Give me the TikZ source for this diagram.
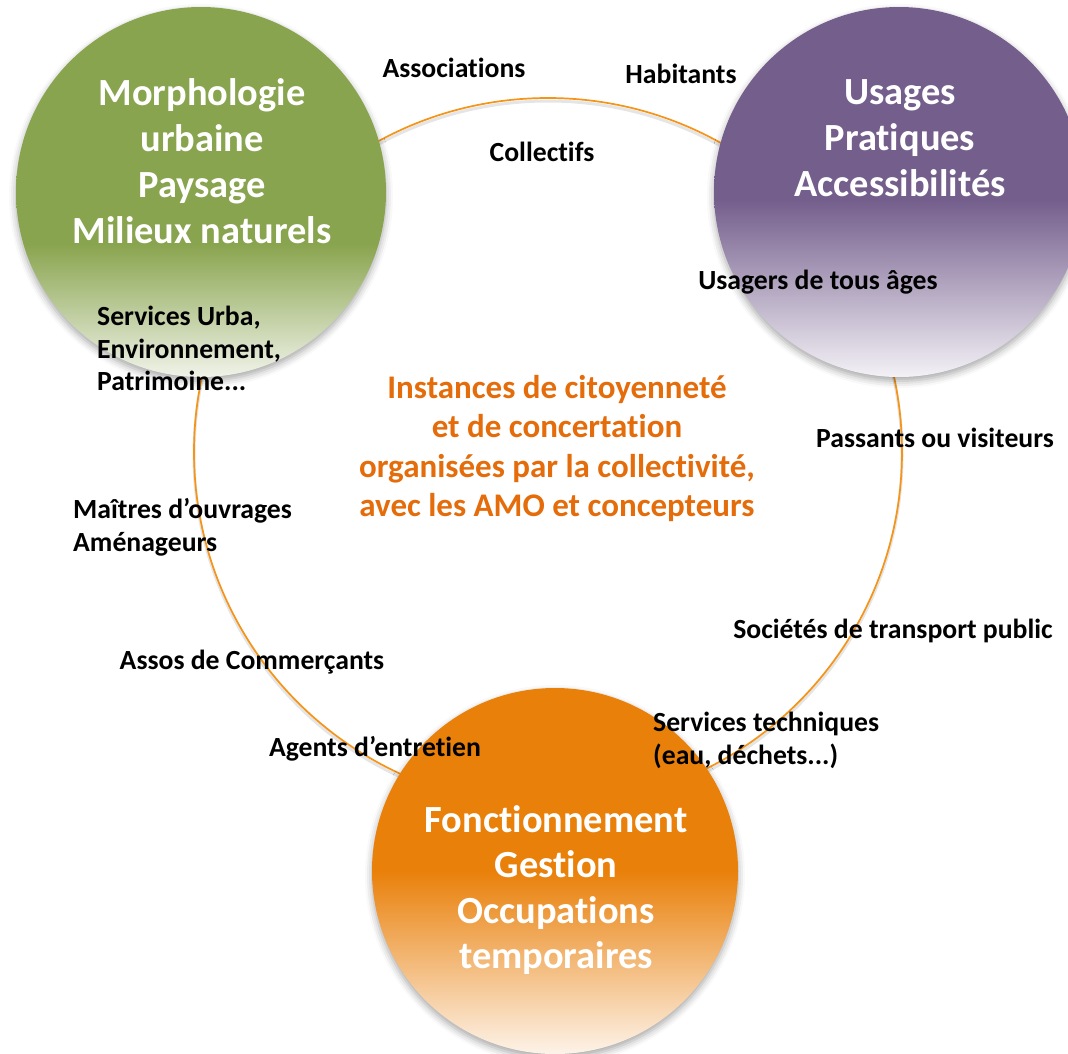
\documentclass[tikz,border=0pt]{standalone}
\usepackage{fontspec}
\setmainfont{Carlito}[Ligatures=NoCommon]
\usetikzlibrary{shadows.blur}

\definecolor{morphoGreen}{RGB}{137,164,78}
\definecolor{morphoFade}{RGB}{240,243,233}
\definecolor{usageViolet}{RGB}{116,94,140}
\definecolor{usageFade}{RGB}{243,241,246}
\definecolor{gestionOrange}{RGB}{233,128,10}
\definecolor{gestionFade}{RGB}{253,243,233}
\definecolor{ringOrange}{RGB}{245,148,22}
\definecolor{instanceText}{RGB}{228,108,10}

\pgfdeclareverticalshading{morphoShade}{100bp}{color(0bp)=(morphoFade); color(25bp)=(morphoFade); color(43bp)=(morphoGreen); color(100bp)=(morphoGreen)}
\pgfdeclareverticalshading{usageShade}{100bp}{color(0bp)=(usageFade); color(25bp)=(usageFade); color(49bp)=(usageViolet); color(100bp)=(usageViolet)}
\pgfdeclareverticalshading{gestionShade}{100bp}{color(0bp)=(gestionFade); color(25bp)=(gestionFade); color(50bp)=(gestionOrange); color(100bp)=(gestionOrange)}

\tikzset{
  pole/.style={circle, minimum size=370pt, inner sep=0pt,
    blur shadow={shadow xshift=0pt, shadow yshift=-4pt, shadow blur radius=7pt, shadow opacity=35}},
  poletext/.style={anchor=north, inner sep=0pt, text=white, align=center,
    font=\bfseries\fontsize{38.4}{46}\selectfont},
  acteur/.style={inner sep=0pt, font=\bfseries\fontsize{27.7}{32.5}\selectfont},
  bloc/.style={acteur, align=left, anchor=north west},
  ring/.style={circle, draw=ringOrange, line width=1.7pt, minimum size=708pt, inner sep=0pt},
}

\begin{document}
\begin{tikzpicture}[x=1pt, y=-1pt]
  \useasboundingbox (0,0) rectangle (1068,1053);

  % anneau des instances
  \draw[black!10, line width=3pt] (548,455) circle[radius=354];
  \node[ring] (instances) at (548,452) {};

  % les trois poles
  \node[pole, shading=morphoShade] (morpho) at (201,192) {};
  \node[pole, shading=usageShade] (usage) at (899,192) {};
  \node[pole, minimum size=366pt, shading=gestionShade] (gestion) at (555,871) {};

  \node[poletext] (morphoT) at (202,78) {Morphologie\\urbaine\\Paysage\\Milieux naturels};
  \node[poletext] (usageT) at (900,79) {Usages\\Pratiques\\Accessibilités};
  \node[poletext, font=\bfseries\fontsize{38.4}{45.5}\selectfont] (gestionT) at (556,805) {Fonctionnement\\Gestion\\Occupations\\temporaires};

  % centre
  \node[inner sep=0pt, anchor=north, align=center, text=instanceText,
    font=\bfseries\fontsize{33}{39.5}\selectfont] (instancesT) at (557,375)
    {Instances de citoyenneté\\et de concertation\\organisées par la collectivité,\\avec les AMO et concepteurs};

  % acteurs
  \node[acteur, anchor=base] (assoc) at (454,77) {Associations};
  \node[acteur, anchor=base] (habit) at (681,83) {Habitants};
  \node[acteur, anchor=base] (collect) at (542,161) {Collectifs};
  \node[acteur, anchor=base] (usagers) at (818,289) {Usagers de tous âges};
  \node[acteur, anchor=base] (passants) at (935,447) {Passants ou visiteurs};
  \node[acteur, anchor=base] (transport) at (893,638) {Sociétés de transport public};
  \node[acteur, anchor=base] (commerce) at (252,669) {Assos de Commerçants};
  \node[acteur, anchor=base] (entretien) at (375,756) {Agents d’entretien};
  \node[bloc] (servUrba) at (97,306) {Services Urba,\\Environnement,\\Patrimoine...};
  \node[bloc] (maitres) at (73,498.5) {Maîtres d’ouvrages\\Aménageurs};
  \node[bloc] (servTech) at (653,712) {Services techniques\\(eau, déchets...)};
\end{tikzpicture}
\end{document}
